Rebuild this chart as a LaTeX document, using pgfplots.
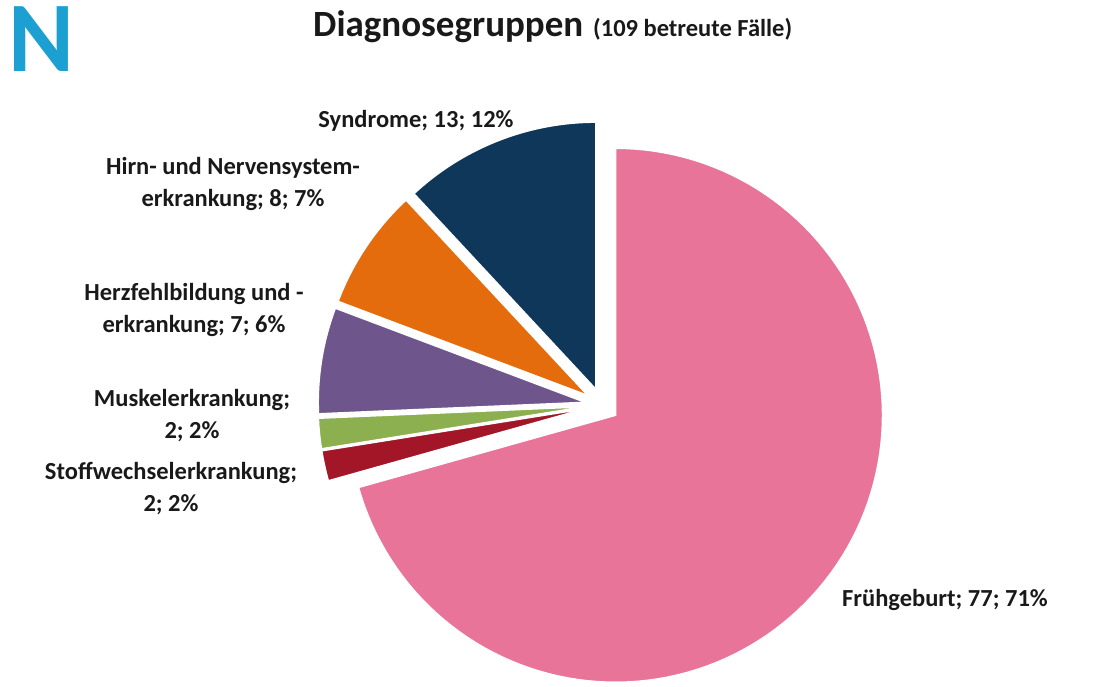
\documentclass[border=0pt]{standalone}
\usepackage{fontspec}
\setmainfont{Carlito}
\usepackage{pgfplots}
\pgfplotsset{compat=1.18}
\definecolor{cPink}{RGB}{232,116,154}
\definecolor{cNavy}{RGB}{14,55,90}
\definecolor{cOrange}{RGB}{228,108,12}
\definecolor{cPurple}{RGB}{110,86,140}
\definecolor{cGreen}{RGB}{140,176,80}
\definecolor{cRed}{RGB}{162,22,40}
\definecolor{cLogo}{RGB}{28,160,210}
\definecolor{cText}{RGB}{25,25,25}
% data: cases per diagnosis group (109 in total)
\def\vFrueh{77}
\def\vStoff{2}
\def\vMuskel{2}
\def\vHerz{7}
\def\vHirn{8}
\def\vSyn{13}
\def\vTotal{109}
\def\cx{602}
\def\cy{282}
\def\rr{267}
\def\dd{17}
\newcommand\slice[3]{%
  \pgfmathsetmacro\mid{(#1+#2)/2}%
  \pgfmathsetmacro\vx{\cx+\dd*cos(\mid)}%
  \pgfmathsetmacro\vy{\cy+\dd*sin(\mid)}%
  \edef\tmp{\noexpand\addplot[fill=#3, draw=white, line width=1.5pt, domain=#1:#2, samples=120, variable=\noexpand\t]
    ({\vx+\rr*cos(\noexpand\t)},{\vy+\rr*sin(\noexpand\t)}) -- (axis cs:\vx,\vy) -- cycle;}%
  \tmp}
\begin{document}
\begin{tikzpicture}
\pgfmathsetmacro\u{360/\vTotal}
\pgfmathsetmacro\aA{90}
\pgfmathsetmacro\aB{\aA-\vFrueh*\u}
\pgfmathsetmacro\aC{\aB-\vStoff*\u}
\pgfmathsetmacro\aD{\aC-\vMuskel*\u}
\pgfmathsetmacro\aE{\aD-\vHerz*\u}
\pgfmathsetmacro\aF{\aE-\vHirn*\u}
\pgfmathsetmacro\aG{\aF-\vSyn*\u}
\begin{axis}[width=1093pt,height=687pt,scale only axis,
  xmin=0,xmax=1093,ymin=0,ymax=687,hide axis,clip=false]
\slice{\aB}{\aA}{cPink}
\slice{\aC}{\aB}{cRed}
\slice{\aD}{\aC}{cGreen}
\slice{\aE}{\aD}{cPurple}
\slice{\aF}{\aE}{cOrange}
\slice{\aG}{\aF}{cNavy}
\end{axis}
\begin{scope}[x=1pt,y=1pt,every node/.style={inner sep=0pt,text=cText,font=\bfseries}]
\path (0,0) rectangle (1093,687);
\node[anchor=base west,text=cLogo,font=\bfseries\fontsize{100}{100}\selectfont] at (8,615) {N};
\node[anchor=base west,font=\bfseries\fontsize{37}{40}\selectfont] at (313,650) {Diagnosegruppen};
\node[anchor=base west,font=\bfseries\fontsize{24.5}{30}\selectfont] at (593,650) {(109 betreute Fälle)};
\node[anchor=base,font=\bfseries\fontsize{24.5}{32}\selectfont] at (416,559) {Syndrome; 13; 12\%};
\node[anchor=base,align=center,font=\bfseries\fontsize{24.5}{32}\selectfont] at (233,480) {Hirn- und Nervensystem-\\erkrankung; 8; 7\%};
\node[anchor=base,align=center,font=\bfseries\fontsize{24.5}{32}\selectfont] at (194,354) {Herzfehlbildung und -\\erkrankung; 7; 6\%};
\node[anchor=base,align=center,font=\bfseries\fontsize{24.5}{32}\selectfont] at (192,248) {Muskelerkrankung;\\2; 2\%};
\node[anchor=base,align=center,font=\bfseries\fontsize{24.5}{32}\selectfont] at (171,175) {Stoffwechselerkrankung;\\2; 2\%};
\node[anchor=base west,font=\bfseries\fontsize{24.5}{32}\selectfont] at (842,80) {Frühgeburt; 77; 71\%};
\end{scope}
\end{tikzpicture}
\end{document}
